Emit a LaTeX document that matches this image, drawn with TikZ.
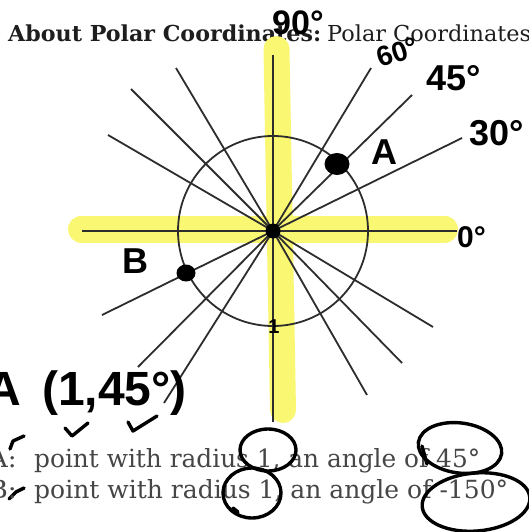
\documentclass[tikz,border=0pt]{standalone}
\usepackage{fontspec}
\usepackage{graphicx}
\setmainfont{DejaVu Serif}
\newfontfamily\handfont{Liberation Sans}
\definecolor{hl}{RGB}{250,247,115}
\definecolor{ink}{RGB}{45,45,45}
\definecolor{titlec}{RGB}{30,30,30}
\definecolor{bodyc}{RGB}{70,70,70}
\tikzset{
  hilite/.style={hl, line cap=round},
  ray/.style={ink, line width=1.8pt},
  hand/.style={black, line width=3.4pt, line cap=round, line join=round},
  handtxt/.style={inner sep=0pt, font=\handfont\bfseries, text=black},
  pagetxt/.style={inner sep=0pt, anchor=base west},
}
\newcommand{\hw}[2]{\fontsize{#1}{#1}\selectfont #2}
\begin{document}
\begin{tikzpicture}[x=1pt,y=-1pt]
\useasboundingbox (0,0) rectangle (528,532);
\fill[white] (0,0) rectangle (528,532);
% title
\node[pagetxt, text=titlec] (t1) at (8,42) {\resizebox{313pt}{\height}{\fontsize{22}{22}\selectfont\bfseries About Polar Coordinates:}};
\node[pagetxt, text=titlec] (t2) at (327,42) {\resizebox{204pt}{\height}{\fontsize{22}{22}\selectfont Polar Coordinates}};
% highlighter
\draw[hilite, line width=27pt] (81.5,229) -- (444.5,229);
\draw[hilite, line width=26pt] (276.5,49) -- (283,410);
% centre and ray ends
\coordinate (O) at (273,231);
\coordinate (e0) at (457,231);
\coordinate (e180) at (82,231);
\coordinate (e90) at (273,55);
\coordinate (e270) at (273,422);
\coordinate (e26) at (462,138);
\coordinate (e206) at (102,315);
\coordinate (e45) at (412,95);
\coordinate (e225) at (138,367);
\coordinate (e60) at (371,68);
\coordinate (e240) at (164,403);
\coordinate (e120) at (176,68);
\coordinate (e300) at (367,395);
\coordinate (e135) at (131,89);
\coordinate (e315) at (402,363);
\coordinate (e150) at (108,135);
\coordinate (e330) at (433,327);
\foreach \e in {e0,e180,e90,e270,e26,e206,e45,e225,e60,e240,e120,e300,e135,e315,e150,e330}
  \draw[ray] (O) -- (\e);
\draw[ray] (O) circle[radius=95pt];
% dots
\fill[black] (O) circle[radius=7.5pt];
\fill[black] (337,164) ellipse[x radius=12.5pt, y radius=11pt];
\fill[black] (186,273) ellipse[x radius=9.5pt, y radius=8.5pt];
% handwritten labels
\node[handtxt, anchor=base west] (l90) at (272,35) {\hw{34}{90°}};
\node[handtxt, anchor=base west, rotate=18] (l60) at (380,68) {\hw{28}{60°}};
\node[handtxt, anchor=base west] (l45) at (426,91) {\hw{36}{45°}};
\node[handtxt, anchor=base west] (l30) at (469,145) {\hw{36}{30°}};
\node[handtxt, anchor=base west] (lA) at (371,164) {\hw{36}{A}};
\node[handtxt, anchor=base west] (lB) at (122,273) {\hw{36}{B}};
\node[handtxt, anchor=base west] (l0) at (457,247) {\hw{30}{0°}};
\node[handtxt, anchor=base] (l1) at (274,333) {\hw{20}{1}};
\node[handtxt, anchor=base east] (pA) at (21,405) {\hw{48}{A}};
\node[handtxt, anchor=base west] (pAc) at (42,405) {\hw{48}{(1,45°)}};
% ticks
\draw[hand] (65,428) -- (72,436) -- (88,423);
\draw[hand] (128,422) -- (133,431) -- (157,416);
\draw[hand] (24,436) -- (13,441) -- (10,449);
\draw[hand] (9,499) -- (16,492) -- (24,488);
% bottom text
\node[pagetxt, text=bodyc, anchor=base east] (a1) at (17,467) {\scalebox{1.05}[1]{\fontsize{25}{25}\selectfont A:}};
\node[pagetxt, text=bodyc] (a2) at (34,467) {\resizebox{446pt}{\height}{\fontsize{25}{25}\selectfont point with radius 1, an angle of 45°}};
\node[pagetxt, text=bodyc, anchor=base east] (b1) at (17,498) {\scalebox{1.05}[1]{\fontsize{25}{25}\selectfont B:}};
\node[pagetxt, text=bodyc] (b2) at (34,498) {\resizebox{474pt}{\height}{\fontsize{25}{25}\selectfont point with radius 1, an angle of -150°}};
% handwritten circles
\draw[hand] (268,450) ellipse[x radius=28pt, y radius=21pt];
\draw[hand] (252,493) ellipse[x radius=29pt, y radius=25pt];
\draw[hand] (233,508) -- (238,512);
\draw[hand, rotate around={-8:(460,448)}] (460,448) ellipse[x radius=42pt, y radius=25pt];
\draw[hand] (427,464) -- (422,446);
\draw[hand, rotate around={5:(476,502)}] (476,502) ellipse[x radius=54pt, y radius=29pt];
\end{tikzpicture}
\end{document}
